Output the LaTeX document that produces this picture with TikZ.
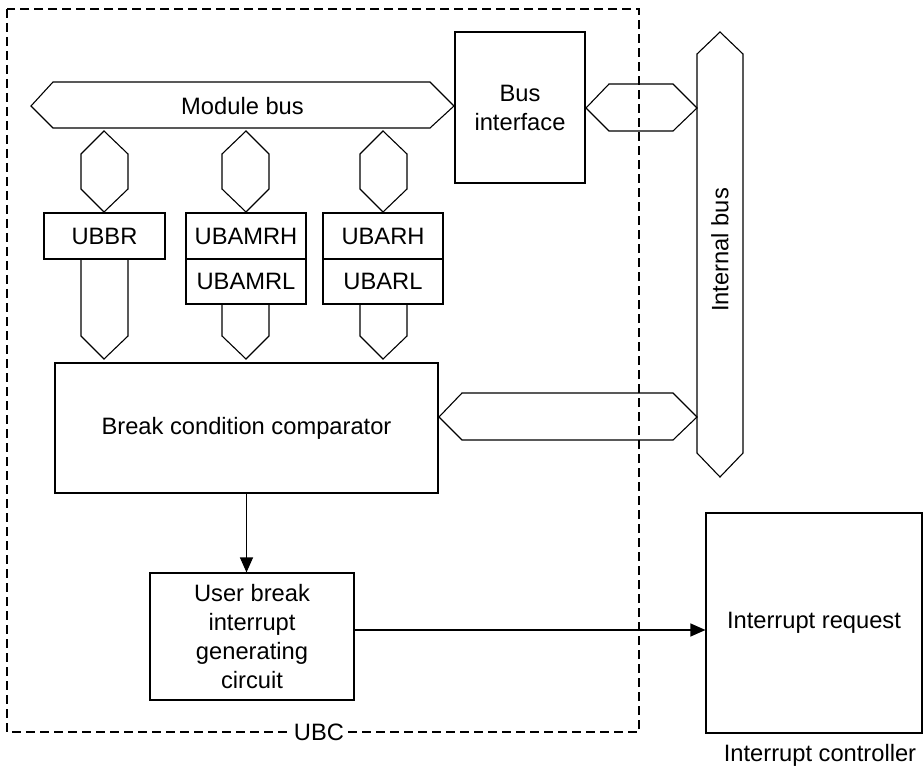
\documentclass[tikz,border=0pt]{standalone}
\usepackage{fontspec}
\setmainfont{Liberation Sans}
\usetikzlibrary{arrows.meta}
\begin{document}
\begin{tikzpicture}[x=1pt,y=-1pt,
  every node/.style={font=\fontsize{23.7}{29}\selectfont},
  ln/.style={line width=1.1pt, line join=miter},
  box/.style={draw, line width=1.1pt, rectangle, inner sep=0pt, align=center},
  arr/.style={line width=1.1pt, -{Triangle[length=15pt,width=13pt]}},
  frame/.style={line width=1.1pt, dash pattern=on 9pt off 5pt}]
\useasboundingbox (0,0) rectangle (924,770);
% UBC frame
\draw[frame] (7,9) rectangle (639,732);
\node[fill=white, inner xsep=3pt, inner ysep=1pt] (ubc) at (319,732) {UBC};
% module bus
\draw[ln] (31,106) -- (53,82) -- (430,82) -- (454,106) -- (430,128) -- (53,128) -- cycle;
\node (mbus) at (242.5,106) {Module bus};
% bus interface
\node[box, minimum width=130pt, minimum height=151pt] (busif) at (520,107.5) {Bus\\interface};
% small buses from module bus
\foreach \cx/\l/\r in {104/81/128, 246/222/269, 383/360/407}{
  \draw[ln] (\cx,131) -- (\r,154) -- (\r,189) -- (\cx,212) -- (\l,189) -- (\l,154) -- cycle;
}
% registers
\node[box, minimum width=121pt, minimum height=46pt] (ubbr) at (104.5,236) {UBBR};
\node[box, minimum width=120pt, minimum height=46pt] (ubamrh) at (246,236) {UBAMRH};
\node[box, minimum width=120pt, minimum height=45pt] (ubamrl) at (246,281.5) {UBAMRL};
\node[box, minimum width=120pt, minimum height=46pt] (ubarh) at (383,236) {UBARH};
\node[box, minimum width=120pt, minimum height=45pt] (ubarl) at (383,281.5) {UBARL};
% down buses
\draw[ln] (81,259) -- (81,336) -- (104,359) -- (128,336) -- (128,259);
\draw[ln] (222,304) -- (222,336) -- (246,359) -- (269,336) -- (269,304);
\draw[ln] (360,304) -- (360,336) -- (383,359) -- (407,336) -- (407,304);
% comparator
\node[box, minimum width=383pt, minimum height=130pt] (bcc) at (246.5,428) {Break condition comparator};
% bus interface to internal bus
\draw[ln] (586,108) -- (609,84) -- (673,84) -- (697,108) -- (673,131) -- (609,131) -- cycle;
% comparator to internal bus
\draw[ln] (439,417) -- (462,393) -- (673,393) -- (697,417) -- (673,440) -- (462,440) -- cycle;
% internal bus
\draw[ln] (697,54) -- (720,32) -- (743,54) -- (743,453) -- (720,477) -- (697,453) -- cycle;
\node[rotate=90] (ibus) at (720,250) {Internal bus};
% user break
\node[box, minimum width=204pt, minimum height=127pt] (ub) at (252,636.5) {User break\\interrupt\\generating\\circuit};
\draw[arr] (bcc.south) -- (bcc.south |- ub.north);
% interrupt controller
\node[box, minimum width=216pt, minimum height=220pt] (ir) at (814,623) {Interrupt request};
\node (ic) at (820,755) {Interrupt controller};
\draw[arr] ([yshift=6.5pt]ub.east) -- ([yshift=6.5pt]ub.east -| ir.west);
\end{tikzpicture}
\end{document}
